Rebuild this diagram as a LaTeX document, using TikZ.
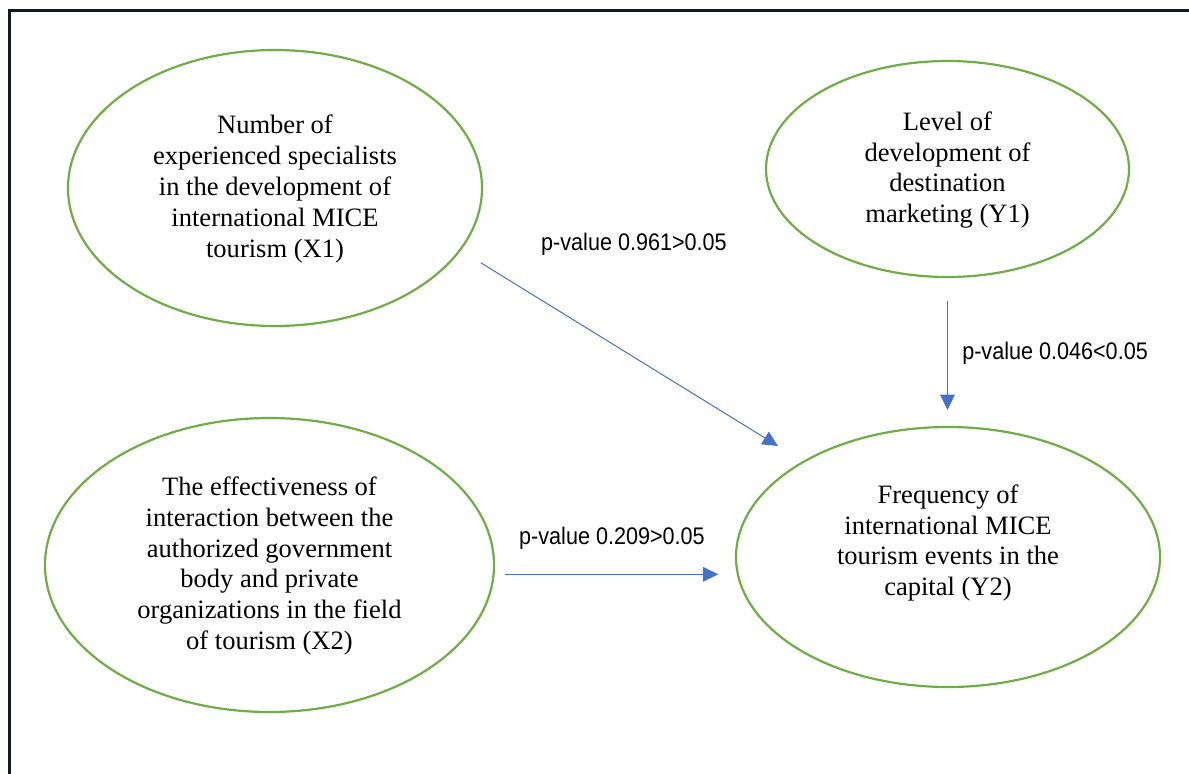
\documentclass[tikz,border=0pt]{standalone}
\usepackage{fontspec}
\setmainfont{Liberation Serif}
\newfontfamily\pvfont[FakeStretch=0.9]{Liberation Sans}
\usetikzlibrary{arrows.meta,shapes.geometric}
\definecolor{leafgreen}{RGB}{112,173,71}
\definecolor{arrowblue}{RGB}{68,114,196}
\definecolor{framenavy}{RGB}{18,26,38}

\begin{document}
\begin{tikzpicture}[x=0.75pt,y=-0.75pt,
  factor/.style={ellipse,draw=leafgreen,line width=1.65pt,inner sep=0pt},
  factortext/.style={align=center,inner sep=0pt,font=\fontsize{19.9}{23.1}\selectfont},
  pathway/.style={draw=arrowblue,line width=0.75pt,-{Triangle[length=11.5pt,width=11pt]}},
  pval/.style={font=\pvfont\fontsize{18}{21}\selectfont,inner sep=0pt}]
  % page = 1189 x 774 px, 1 unit = 1 px
  \useasboundingbox (0,0) rectangle (1189,774);
  \clip (0,0) rectangle (1189,774);
  \draw[framenavy,line width=2.25pt] (9.5,11) rectangle (1220,800);
  % factors
  \node[factor,minimum width=310.5pt,minimum height=207pt] (x1) at (275,188) {};
  \node[factor,minimum width=336.75pt,minimum height=220.5pt] (x2) at (269.5,565) {};
  \node[factor,minimum width=272.25pt,minimum height=162pt] (y1) at (947.5,169) {};
  \node[factor,minimum width=318pt,minimum height=195pt] (y2) at (948,557) {};
  \node[factortext] (x1text) at ([yshift=-0.75pt]x1.center) {Number of\\experienced specialists\\in the development of\\international MICE\\tourism (X1)};
  \node[factortext] (x2text) at ([yshift=-0.75pt]x2.center) {The effectiveness of\\interaction between the\\authorized government\\body and private\\organizations in the field\\of tourism (X2)};
  \node[factortext] (y1text) at ([yshift=-0.75pt]y1.center) {Level of\\development of\\destination\\marketing (Y1)};
  \node[factortext] (y2text) at ([yshift=10.5pt]y2.center) {Frequency of\\international MICE\\tourism events in the\\capital (Y2)};
  % arrow ends
  \coordinate (x1out) at (480.7,262.7);
  \coordinate (y2in1) at (778,446);
  \coordinate (y1out) at (947.5,300.7);
  \coordinate (y2in2) at (947.5,410);
  \coordinate (x2out) at (505,574.3);
  \coordinate (y2in3) at (718.3,574.3);
  \draw[pathway] (x1out) -- (y2in1);
  \draw[pathway] (y1out) -- (y2in2);
  \draw[pathway] (x2out) -- (y2in3);
  % p-values
  \node[pval] (p1) at (634,244) {p-value 0.961>0.05};
  \node[pval,anchor=west] (p2) at (962,353) {p-value 0.046<0.05};
  \node[pval] (p3) at (612,538) {p-value 0.209>0.05};
\end{tikzpicture}
\end{document}
